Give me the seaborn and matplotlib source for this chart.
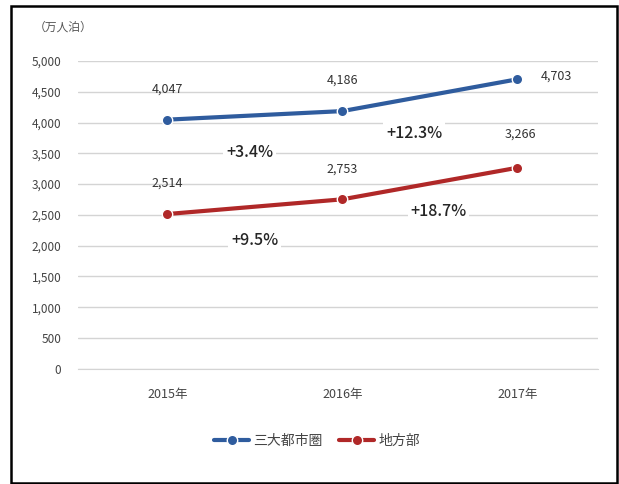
import matplotlib
matplotlib.use("Agg")
import matplotlib.pyplot as plt
import seaborn as sns
import pandas as pd
from matplotlib.patches import Rectangle

years = ["2015年", "2016年", "2017年"]
metro = [4047, 4186, 4703]
local = [2514, 2753, 3266]
series_names = ["三大都市圏", "地方部"]
metro_growth = ["+3.4%", "+12.3%"]
local_growth = ["+9.5%", "+18.7%"]

sns.set_style("white")
plt.rcParams["font.family"] = ["Noto Sans CJK JP", "DejaVu Sans"]

df = pd.DataFrame({
    "year": list(range(len(years))) * 2,
    "value": metro + local,
    "series": [series_names[0]] * 3 + [series_names[1]] * 3,
})

colors = {series_names[0]: "#2f5c9e", series_names[1]: "#b02828"}

fig = plt.figure(figsize=(6.19, 4.84), dpi=100)
ax = fig.add_axes([0.126, 0.238, 0.84, 0.636])

sns.lineplot(data=df, x="year", y="value", hue="series", palette=colors,
             marker="o", markersize=7.5, markeredgewidth=1, linewidth=3, ax=ax, legend=True)

ax.set_xlim(-0.51, 2.46)
ax.set_ylim(0, 5000)
ax.set_yticks(range(0, 5001, 500))
ax.set_yticklabels([f"{v:,}" for v in range(0, 5001, 500)], fontsize=8.5, color="#444444")
ax.set_xticks(range(len(years)))
ax.set_xticklabels(years, fontsize=9, color="#444444")
ax.tick_params(axis="y", length=0, pad=12)
ax.tick_params(axis="x", length=0, pad=14)
ax.yaxis.grid(True, color="#d4d4d4", linewidth=1)
ax.set_axisbelow(True)
for s in ["top", "right", "left"]:
    ax.spines[s].set_visible(False)
ax.spines["bottom"].set_color("#d4d4d4")
ax.set_xlabel("")
ax.set_ylabel("")

# data labels
metro_off = [(0, 22), (0, 22), (28, 2)]
for i, v in enumerate(metro):
    ax.annotate(f"{v:,}", (i, v), xytext=metro_off[i], textcoords="offset points",
                ha="center", va="center", fontsize=9, color="#333333")
local_off = [(0, 22), (0, 22), (2, 24)]
for i, v in enumerate(local):
    ax.annotate(f"{v:,}", (i, v), xytext=local_off[i], textcoords="offset points",
                ha="center", va="center", fontsize=9, color="#333333")

# growth labels
box = dict(facecolor="white", edgecolor="none", pad=2)
ax.text(0.47, 3510, metro_growth[0], fontsize=11.5, fontweight="medium", ha="center", va="center", bbox=box)
ax.text(1.41, 3830, metro_growth[1], fontsize=11.5, fontweight="medium", ha="center", va="center", bbox=box)
ax.text(0.50, 2090, local_growth[0], fontsize=11.5, fontweight="medium", ha="center", va="center", bbox=box)
ax.text(1.55, 2550, local_growth[1], fontsize=11.5, fontweight="medium", ha="center", va="center", bbox=box)

fig.text(0.055, 0.944, "（万人泊）", fontsize=8.5, color="#555555", ha="left", va="center")

leg = ax.legend(loc="upper center", bbox_to_anchor=(0.46, -0.17), ncol=2, frameon=False,
                fontsize=10, handlelength=2.5, columnspacing=1.2, handletextpad=0.3)
for t in leg.get_texts():
    t.set_color("#444444")

fig.patches.append(Rectangle((0.017, 0.003), 0.98, 0.985, transform=fig.transFigure,
                             fill=False, edgecolor="black", linewidth=1.8))

fig.savefig("out.png", dpi=100)
